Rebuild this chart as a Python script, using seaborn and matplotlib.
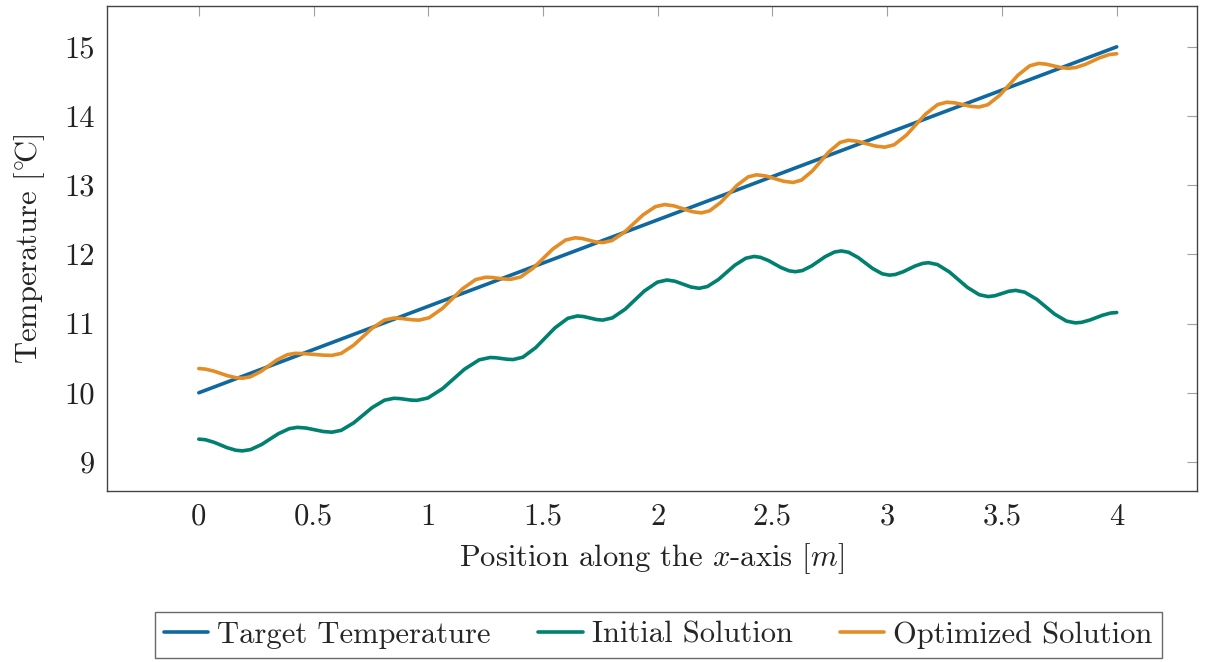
import matplotlib
matplotlib.use("Agg")
import matplotlib.pyplot as plt
import seaborn as sns
import pandas as pd


# valores
target_x = [0.0, 4.0]
target_y = [10.0, 15.0]

initial_x = [0.0, 0.0285, 0.0665, 0.095, 0.1235, 0.1615, 0.19, 0.226, 0.274, 0.31, 0.346,
             0.394, 0.43, 0.4675, 0.505, 0.5425, 0.58, 0.6205, 0.6745, 0.715, 0.7555, 0.8095,
             0.85, 0.875, 0.90, 0.925, 0.95, 0.998, 1.062, 1.11, 1.158, 1.222, 1.27, 1.295,
             1.32, 1.345, 1.37, 1.412, 1.468, 1.51, 1.552, 1.608, 1.65, 1.6775, 1.705, 1.7325,
             1.76, 1.802, 1.858, 1.90, 1.942, 1.998, 2.04, 2.075, 2.11, 2.145, 2.18, 2.216,
             2.264, 2.30, 2.336, 2.384, 2.42, 2.447, 2.483, 2.51, 2.537, 2.573, 2.60, 2.63,
             2.67, 2.70, 2.73, 2.77, 2.80, 2.8315, 2.8735, 2.905, 2.9365, 2.9785, 3.01,
             3.0355, 3.0695, 3.095, 3.1205, 3.1545, 3.18, 3.219, 3.271, 3.31, 3.349, 3.401,
             3.44, 3.47, 3.50, 3.53, 3.56, 3.599, 3.651, 3.69, 3.729, 3.781, 3.82, 3.847,
             3.883, 3.91, 3.937, 3.973, 4.0]
initial_y = [9.33, 9.321, 9.284, 9.245, 9.206, 9.169, 9.16, 9.179, 9.253, 9.33, 9.407,
             9.481, 9.50, 9.49, 9.465, 9.44, 9.43, 9.457, 9.564, 9.675, 9.786, 9.893,
             9.92, 9.916, 9.905, 9.894, 9.89, 9.924, 10.059, 10.20, 10.341, 10.476, 10.51,
             10.506, 10.495, 10.484, 10.48, 10.514, 10.652, 10.795, 10.938, 11.076, 11.11,
             11.101, 11.08, 11.059, 11.05, 11.082, 11.208, 11.34, 11.472, 11.598, 11.63,
             11.612, 11.57, 11.528, 11.51, 11.535, 11.636, 11.74, 11.844, 11.945, 11.97,
             11.958, 11.91, 11.86, 11.81, 11.762, 11.75, 11.766, 11.832, 11.90, 11.968,
             12.034, 12.05, 12.031, 11.954, 11.875, 11.796, 11.719, 11.70, 11.71, 11.749,
             11.79, 11.831, 11.87, 11.88, 11.853, 11.746, 11.635, 11.524, 11.417, 11.39,
             11.403, 11.435, 11.467, 11.48, 11.454, 11.352, 11.245, 11.138, 11.036, 11.01,
             11.018, 11.051, 11.085, 11.119, 11.152, 11.16]

optimized_x = [0.0, 0.0285, 0.0665, 0.095, 0.1235, 0.1615, 0.19, 0.2245, 0.2705, 0.305,
               0.3395, 0.3855, 0.42, 0.46, 0.50, 0.54, 0.58, 0.6205, 0.6745, 0.715, 0.7555,
               0.8095, 0.85, 0.8775, 0.905, 0.9325, 0.96, 1.0035, 1.0615, 1.105, 1.1485,
               1.2065, 1.25, 1.2775, 1.305, 1.3325, 1.36, 1.402, 1.458, 1.50, 1.542, 1.598,
               1.64, 1.67, 1.70, 1.73, 1.76, 1.8005, 1.8545, 1.895, 1.9355, 1.9895, 2.03,
               2.07, 2.11, 2.15, 2.19, 2.226, 2.274, 2.31, 2.346, 2.394, 2.43, 2.47, 2.51,
               2.55, 2.59, 2.626, 2.674, 2.71, 2.746, 2.794, 2.83, 2.87, 2.91, 2.95, 2.99,
               3.0305, 3.0845, 3.125, 3.1655, 3.2195, 3.26, 3.295, 3.33, 3.365, 3.40, 3.439,
               3.491, 3.53, 3.569, 3.621, 3.66, 3.6925, 3.725, 3.7575, 3.79, 3.8215, 3.8635,
               3.895, 3.9265, 3.9685, 4.0]
optimized_y = [10.35, 10.342, 10.312, 10.28, 10.248, 10.218, 10.21, 10.23, 10.308, 10.39,
               10.472, 10.55, 10.57, 10.566, 10.555, 10.544, 10.54, 10.569, 10.687, 10.81,
               10.933, 11.051, 11.08, 11.076, 11.065, 11.054, 11.05, 11.084, 11.219, 11.36,
               11.501, 11.636, 11.67, 11.666, 11.655, 11.644, 11.64, 11.673, 11.804, 11.94,
               12.076, 12.207, 12.24, 12.23, 12.205, 12.18, 12.17, 12.2, 12.32, 12.445,
               12.57, 12.69, 12.72, 12.702, 12.66, 12.618, 12.60, 12.63, 12.75, 12.875,
               13.0, 13.12, 13.15, 13.134, 13.095, 13.056, 13.04, 13.073, 13.207, 13.345,
               13.483, 13.617, 13.65, 13.635, 13.60, 13.565, 13.55, 13.585, 13.727, 13.875,
               14.023, 14.165, 14.20, 14.19, 14.165, 14.14, 14.13, 14.164, 14.302, 14.445,
               14.588, 14.726, 14.76, 14.75, 14.725, 14.70, 14.69, 14.701, 14.747, 14.795,
               14.843, 14.889, 14.90]

x_ticks = [0, 0.5, 1, 1.5, 2, 2.5, 3, 3.5, 4]
x_tick_labels = ["0", "0.5", "1", "1.5", "2", "2.5", "3", "3.5", "4"]
y_ticks = [9, 10, 11, 12, 13, 14, 15]

series_names = ["Target Temperature", "Initial Solution", "Optimized Solution"]
cores = ["#0f68a0", "#00806f", "#e58d25"]

sns.set_theme(style="white")
plt.rcParams["font.family"] = ["cmr10", "DejaVu Serif"]
plt.rcParams["mathtext.fontset"] = "cm"
plt.rcParams["axes.unicode_minus"] = False

fig = plt.figure(figsize=(12.08, 6.62), dpi=100)
ax = fig.add_axes([0.0886, 0.2583, 0.9023, 0.7326])

dados = [(target_x, target_y), (initial_x, initial_y), (optimized_x, optimized_y)]
for (xs, ys), nome, cor in zip(dados, series_names, cores):
    df = pd.DataFrame({"x": xs, "y": ys})
    sns.lineplot(data=df, x="x", y="y", ax=ax, color=cor, linewidth=2.6,
                 label=nome, legend=False, sort=False)

ax.set_xlim(-0.40, 4.35)
ax.set_ylim(8.58, 15.59)
ax.set_xticks(x_ticks)
ax.set_xticklabels(x_tick_labels)
ax.set_yticks(y_ticks)
ax.tick_params(direction="in", length=7, width=0.8, color="#a0a0a0",
               top=True, right=True, labelsize=22, pad=9, labelcolor="#222222")
for s in ax.spines.values():
    s.set_color("#444444")
    s.set_linewidth(1.0)

ax.set_xlabel(r"Position along the $x$-axis $[m]$", fontsize=22, labelpad=7, color="#222222")
ax.set_ylabel(r"Temperature $[^{\circ}\!\mathrm{C}]$", fontsize=22, labelpad=12, color="#222222")

leg = fig.legend(*ax.get_legend_handles_labels(), loc="upper center",
                 bbox_to_anchor=(0.545, 0.076), ncol=3, fontsize=22, frameon=True,
                 fancybox=False, edgecolor="#444444", handlelength=1.45,
                 handletextpad=0.3, columnspacing=1.55, borderpad=0.3,
                 borderaxespad=0.0)
leg.get_frame().set_linewidth(1.0)

fig.savefig("out.png", dpi=100)
